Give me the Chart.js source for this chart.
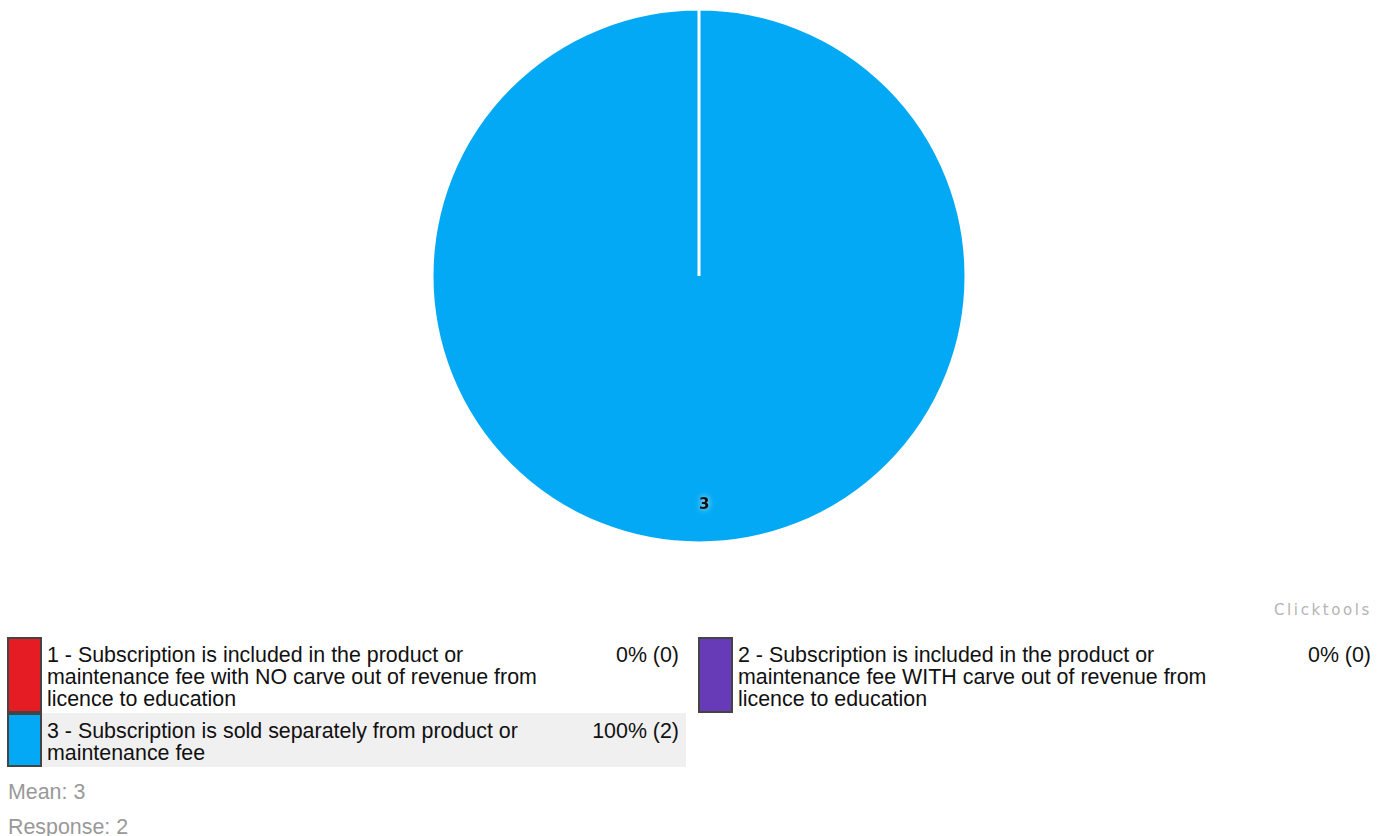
<!DOCTYPE html>
<html>
<head>
<meta charset="utf-8">
<script src="https://cdn.jsdelivr.net/npm/chart.js@4.4.1/dist/chart.umd.min.js"></script>
<style>
  body { margin: 0; background: #fff; width: 1387px; height: 836px; position: relative; overflow: hidden; font-family: "Liberation Sans", Arial, sans-serif; }
  #pie-box { position: absolute; left: 0; top: 0; width: 1387px; height: 552px; }
  #credit { position: absolute; right: 15px; top: 601px; font-family: "DejaVu Sans", sans-serif; font-size: 15px; color: #b4b4b4; letter-spacing: 2.6px; }
  #legend { position: absolute; left: 7px; top: 637px; display: grid; grid-template-columns: 679px 680px; column-gap: 12px; }
  .item { display: flex; align-items: stretch; }
  .swatch { width: 31px; border: 2px solid #444; flex: none; }
  .text { flex: 1; display: flex; padding: 7px 7px 3px 5px; font-size: 21.4px; line-height: 22px; color: #111; }
  .text.hl { background: #f0f0f0; }
  .label { width: 510px; flex: none; }
  .pct { flex: 1; text-align: right; white-space: nowrap; }
  .stat { position: absolute; left: 8px; font-size: 21.4px; color: #999; }
</style>
</head>
<body>
<div id="pie-box"><canvas id="pie"></canvas></div>
<div id="credit">Clicktools</div>
<div id="legend"></div>
<div class="stat" id="mean" style="top:780px"></div>
<div class="stat" id="resp" style="top:815px"></div>
<script>
const codes = [1, 2, 3];
const answers = [
  "Subscription is included in the product or maintenance fee with NO carve out of revenue from licence to education",
  "Subscription is included in the product or maintenance fee WITH carve out of revenue from licence to education",
  "Subscription is sold separately from product or maintenance fee"
];
const counts = [0, 0, 2];
const colors = ["#e51c23", "#673ab7", "#03a9f4"];

const total = counts.reduce((a, b) => a + b, 0);
const mean = counts.reduce((s, c, i) => s + c * codes[i], 0) / total;

// number label inside each non-empty slice
const sliceLabels = {
  id: "sliceLabels",
  afterDatasetsDraw(chart) {
    const ctx = chart.ctx;
    chart.getDatasetMeta(0).data.forEach((arc, i) => {
      if (!counts[i]) return;
      const p = arc.getProps(["x", "y", "startAngle", "endAngle", "outerRadius"], true);
      const mid = (p.startAngle + p.endAngle) / 2;
      const r = p.outerRadius * 0.857;
      ctx.save();
      ctx.font = "bold 15px 'DejaVu Sans', sans-serif";
      ctx.textAlign = "left";
      ctx.textBaseline = "middle";
      ctx.shadowColor = "rgba(255,255,255,0.9)";
      ctx.shadowBlur = 6;
      ctx.fillStyle = "#111";
      ctx.fillText(String(codes[i]), p.x + r * Math.cos(mid), p.y + r * Math.sin(mid));
      ctx.restore();
    });
  }
};

const pieChart = new Chart(document.getElementById("pie").getContext("2d"), {
  type: "pie",
  data: {
    labels: codes.map((c, i) => c + " - " + answers[i]),
    datasets: [{
      data: counts,
      backgroundColor: colors,
      borderColor: "#fff",
      borderWidth: 3,
      radius: 267
    }]
  },
  options: {
    responsive: true,
    maintainAspectRatio: false,
    animation: false,
    layout: { padding: { left: 11, top: 10, bottom: 10, right: 0 } },
    plugins: { legend: { display: false }, tooltip: { enabled: false } }
  },
  plugins: [sliceLabels]
});

// legend table, two columns filled row by row
const legend = document.getElementById("legend");
codes.forEach((c, i) => {
  const pct = total ? Math.round(counts[i] / total * 100) : 0;
  const item = document.createElement("div");
  item.className = "item";
  item.innerHTML =
    '<div class="swatch" style="background:' + colors[i] + '"></div>' +
    '<div class="text' + (counts[i] ? ' hl' : '') + '">' +
    '<div class="label">' + c + ' - ' + answers[i] + '</div>' +
    '<div class="pct">' + pct + '% (' + counts[i] + ')</div></div>';
  legend.appendChild(item);
});

document.getElementById("mean").textContent = "Mean: " + mean;
document.getElementById("resp").textContent = "Response: " + total;
</script>
</body>
</html>
